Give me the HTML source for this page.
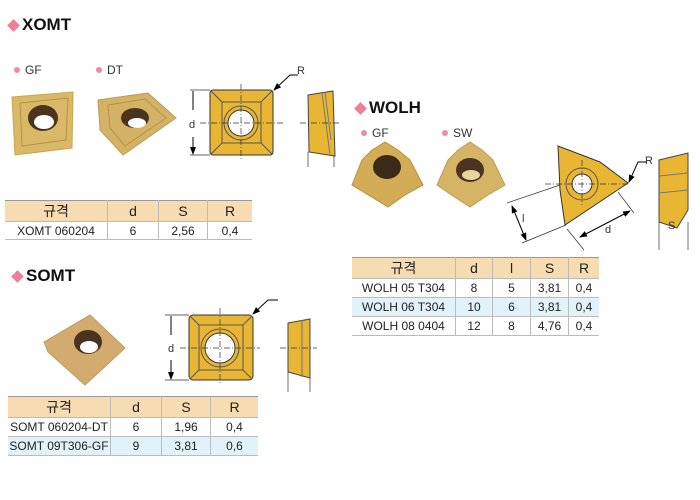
<!DOCTYPE html>
<html><head><meta charset="utf-8"><style>
body{margin:0;width:700px;height:500px;background:#fff;position:relative;overflow:hidden;font-family:"Liberation Sans","Noto Sans CJK KR",sans-serif;}
.t{position:absolute;font-weight:bold;font-size:17px;color:#111;}
.dm{position:absolute;width:9px;height:9px;background:#ee7f9c;transform:rotate(45deg);}
.b{position:absolute;font-size:12px;color:#333;}
.b::before{content:"";display:inline-block;width:6px;height:6px;border-radius:50%;background:#ee8aa6;margin-right:5px;vertical-align:1px;}
table{position:absolute;border-collapse:collapse;font-size:12px;color:#222;}
td{border-right:1px solid #bbb;border-bottom:1px solid #bbb;text-align:center;padding:0;}
td:last-child{border-right:none;}
tr.h td{background:#f6dcb0;font-size:14px;}
tr.bl td{background:#e2f2f9;}
table{border-top:1px solid #999;border-bottom:1px solid #999;}
svg{position:absolute;left:0;top:0;}
</style></head><body>
<svg width="700" height="500">
<defs>
<marker id="a" markerWidth="8" markerHeight="8" refX="7" refY="4" orient="auto-start-reverse"><path d="M0,1 L8,4 L0,7z" fill="#000"/></marker>
</defs>
<!-- XOMT photos -->
<path d="M12,97 L73,92 L72,148 L15,155 Z" fill="#d9b968" stroke="#c9a550"/>
<path d="M20,103 L68,98 L66,140 L22,146Z" fill="none" stroke="#b79345"/>
<ellipse cx="43" cy="118" rx="15" ry="13" fill="#4a3420"/><ellipse cx="44" cy="122" rx="10" ry="7" fill="#fff"/>
<path d="M98,100 L148,93 L176,118 L123,155 L100,130Z" fill="#d3b266" stroke="#c09b4c"/>
<path d="M108,105 L145,99 L166,118 L125,146 L110,128Z" fill="none" stroke="#b79345"/>
<ellipse cx="135" cy="118" rx="14" ry="10" fill="#4a3420"/><ellipse cx="137" cy="123" rx="9" ry="5" fill="#fff"/>
<!-- XOMT drawing -->
<rect x="210" y="90" width="63" height="65" rx="3" fill="#e9b634" stroke="#333"/>
<rect x="222" y="102" width="39" height="41" fill="none" stroke="#555"/>
<path d="M211,91 L222,102 M272,91 L261,102 M211,154 L222,143 M272,154 L261,143" stroke="#555"/>
<circle cx="241" cy="123" r="17" fill="none" stroke="#555"/>
<circle cx="241" cy="123" r="13" fill="#fff" stroke="#333"/>
<path d="M200,123 L283,123 M241,84 L241,160" stroke="#333" stroke-dasharray="6,2,1,2" stroke-width="0.7"/>
<path d="M190,90 L210,90 M190,155 L210,155" stroke="#333" stroke-width="0.7"/>
<path d="M193,110 L193,91 M193,137 L193,154" stroke="#000" marker-end="url(#a)"/>
<text x="189" y="128" font-size="11" fill="#333">d</text>
<path d="M298,75 L290,75 L274,90" stroke="#000" fill="none" marker-end="url(#a)"/>
<text x="297" y="74" font-size="11" fill="#333">R</text>
<path d="M308,95 L333,91 L335,156 L309,152Z" fill="#e9b634" stroke="#444"/>
<path d="M322,93 L330,155 M325,92 L331,140" stroke="#777" fill="none"/>
<path d="M300,123 L340,123" stroke="#333" stroke-dasharray="6,2,1,2" stroke-width="0.7"/>
<path d="M308,152 L308,167 M334,156 L334,167" stroke="#333" stroke-width="0.7"/>
<!-- WOLH photos -->
<path d="M352,185 L362,160 L372,150 L385,142 L398,150 L410,160 L423,185 L405,195 L388,207 L370,196Z" fill="#d2ad55" stroke="#b89040"/>
<ellipse cx="387" cy="167" rx="14" ry="12" fill="#3a2a18"/>
<path d="M437,185 L448,160 L458,150 L470,142 L482,150 L493,160 L505,185 L488,195 L470,207 L453,196Z" fill="#d6b466" stroke="#c09b4c"/>
<ellipse cx="470" cy="170" rx="14" ry="12" fill="#4a3420"/><ellipse cx="471" cy="175" rx="9" ry="5" fill="#e8d6a0"/>
<!-- WOLH drawing -->
<path d="M558,146 L600,162 L628,183 L595,205 L565,225 L560,190Z" fill="#e9b634" stroke="#333"/>
<circle cx="582" cy="184" r="16" fill="none" stroke="#555"/>
<circle cx="582" cy="184" r="10" fill="#fff" stroke="#333"/>
<path d="M545,184 L628,184 M582,160 L582,205" stroke="#333" stroke-dasharray="6,2,1,2" stroke-width="0.7"/>
<path d="M507,203 L560,185 M522,243 L566,225 M567,229 L584,250 M618,192 L634,213" stroke="#333" stroke-width="0.7"/>
<path d="M512,206 L526,240" stroke="#000" marker-start="url(#a)" marker-end="url(#a)"/>
<path d="M580,237 L630,211" stroke="#000" marker-start="url(#a)" marker-end="url(#a)"/>
<text x="522" y="222" font-size="11" fill="#333">l</text>
<text x="605" y="233" font-size="11" fill="#333">d</text>
<path d="M646,162 L638,162 L629,182" stroke="#000" fill="none" marker-end="url(#a)"/>
<text x="645" y="164" font-size="11" fill="#333">R</text>
<path d="M659,160 L688,153 L688,210 L677,228 L659,222Z" fill="#e9b634" stroke="#444"/>
<path d="M659,176 L688,173 M659,193 L688,190" stroke="#777"/>
<path d="M659,222 L659,250 M688,222 L688,250" stroke="#333" stroke-width="0.7"/>
<text x="668" y="229" font-size="11" fill="#333">S</text>
<!-- SOMT photo -->
<path d="M44,342 L90,315 L125,348 L85,385 L48,352Z" fill="#d3ab6e" stroke="#c09b5c"/>
<ellipse cx="88" cy="342" rx="14" ry="12" fill="#4a3420"/><ellipse cx="89" cy="347" rx="9" ry="6" fill="#fff"/>
<!-- SOMT drawing -->
<rect x="189" y="315" width="64" height="65" rx="4" fill="#e9b634" stroke="#333"/>
<rect x="199" y="325" width="44" height="45" fill="none" stroke="#555"/>
<path d="M190,316 L199,325 M252,316 L243,325 M190,379 L199,370 M252,379 L243,370" stroke="#555"/>
<circle cx="220" cy="348" r="19" fill="none" stroke="#555"/>
<circle cx="220" cy="348" r="15" fill="#fff" stroke="#333"/>
<path d="M180,348 L260,348 M220,308 L220,385" stroke="#333" stroke-dasharray="6,2,1,2" stroke-width="0.7"/>
<path d="M165,315 L189,315 M165,380 L189,380" stroke="#333" stroke-width="0.7"/>
<path d="M171,335 L171,316 M171,360 L171,379" stroke="#000" marker-end="url(#a)"/>
<text x="168" y="352" font-size="11" fill="#333">d</text>
<path d="M278,300 L268,300 L253,314" stroke="#000" fill="none" marker-end="url(#a)"/>
<path d="M288,323 L310,319 L310,378 L288,372Z" fill="#e9b634" stroke="#444"/>
<path d="M302,320 L302,377" stroke="#777"/>
<path d="M280,348 L317,348" stroke="#333" stroke-dasharray="6,2,1,2" stroke-width="0.7"/>
<path d="M288,372 L288,392 M310,378 L310,392" stroke="#333" stroke-width="0.7"/>
</svg>
<div class="dm" style="left:9px;top:21px"></div><div class="t" style="left:22px;top:15px">XOMT</div>
<div class="b" style="left:14px;top:63px">GF</div><div class="b" style="left:96px;top:63px">DT</div>
<div class="dm" style="left:356px;top:104px"></div><div class="t" style="left:369px;top:98px">WOLH</div>
<div class="b" style="left:361px;top:126px">GF</div><div class="b" style="left:442px;top:126px">SW</div>
<div class="dm" style="left:13px;top:272px"></div><div class="t" style="left:26px;top:266px">SOMT</div>

<table style="left:5px;top:200px;width:247px">
<tr class="h" style="height:18px"><td style="width:102px">규격</td><td style="width:50px">d</td><td style="width:48px">S</td><td>R</td></tr>
<tr style="height:18px"><td>XOMT 060204</td><td>6</td><td>2,56</td><td>0,4</td></tr>
</table>
<table style="left:352px;top:257px;width:247px">
<tr class="h" style="height:18px"><td style="width:103px">규격</td><td style="width:36px">d</td><td style="width:37px">l</td><td style="width:37px">S</td><td>R</td></tr>
<tr style="height:19px"><td>WOLH 05 T304</td><td>8</td><td>5</td><td>3,81</td><td>0,4</td></tr>
<tr class="bl" style="height:19px"><td>WOLH 06 T304</td><td>10</td><td>6</td><td>3,81</td><td>0,4</td></tr>
<tr style="height:19px"><td>WOLH 08 0404</td><td>12</td><td>8</td><td>4,76</td><td>0,4</td></tr>
</table>
<table style="left:8px;top:396px;width:250px">
<tr class="h" style="height:19px"><td style="width:102px">규격</td><td style="width:50px">d</td><td style="width:48px">S</td><td>R</td></tr>
<tr style="height:19px"><td>SOMT 060204-DT</td><td>6</td><td>1,96</td><td>0,4</td></tr>
<tr class="bl" style="height:19px"><td>SOMT 09T306-GF</td><td>9</td><td>3,81</td><td>0,6</td></tr>
</table>
</body></html>
